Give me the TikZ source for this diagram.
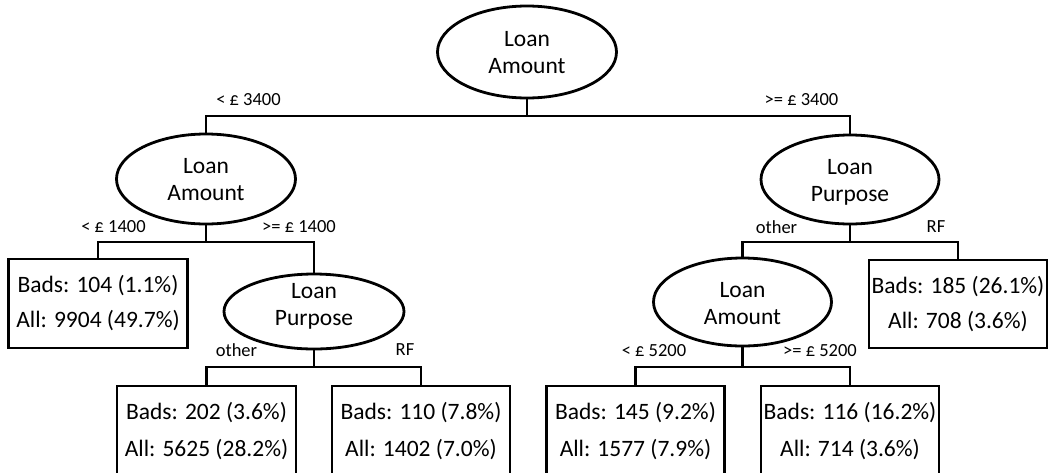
\documentclass[tikz,border=0pt]{standalone}
\usepackage{fontspec}
\setmainfont{Carlito}
\usetikzlibrary{shapes.geometric}
\tikzset{
  split/.style={ellipse,draw,line width=2.8pt,inner sep=0pt},
  splittext/.style={inner sep=0pt,align=center,font=\fontsize{23.5}{27}\selectfont},
  leaf/.style={rectangle,draw,line width=2.8pt,inner sep=0pt,align=center,
    font=\fontsize{23.5}{35}\selectfont},
  conn/.style={line width=2.8pt},
  elab/.style={inner sep=0pt,font=\fontsize{18.5}{20}\selectfont}
}
\begin{document}
\begin{tikzpicture}[x=1pt,y=-1pt]
\path[use as bounding box] (0,0) rectangle (1051,472);
\clip (0,0) rectangle (1051,472);
% split nodes
\node[split,minimum width=179pt,minimum height=92pt] (root) at (527,52) {};
\node[split,minimum width=179pt,minimum height=90pt] (l1) at (206,179) {};
\node[split,minimum width=178pt,minimum height=89pt] (r1) at (850,179.5) {};
\node[split,minimum width=180pt,minimum height=75pt] (l2) at (314,311.5) {};
\node[split,minimum width=178pt,minimum height=88pt] (r2) at (742.5,302) {};
\node[splittext] (roott) at (527,53) {Loan\\Amount};
\node[splittext] (l1t) at (206,179.5) {Loan\\Amount};
\node[splittext] (r1t) at (850,182) {Loan\\Purpose};
\node[splittext] (l2t) at (314,306.5) {Loan\\Purpose};
\node[splittext] (r2t) at (742.5,304) {Loan\\Amount};
% leaves
\node[leaf,minimum width=179pt,minimum height=89pt] (ll) at (98,303.5) {Bads: 104 (1.1\%)\\All: 9904 (49.7\%)};
\node[leaf,minimum width=178pt,minimum height=88pt] (rr) at (958,304) {Bads: 185 (26.1\%)\\All: 708 (3.6\%)};
\node[leaf,minimum width=179pt,minimum height=90pt,font=\fontsize{23.5}{36.5}\selectfont] (b1) at (206.5,431) {Bads: 202 (3.6\%)\\All: 5625 (28.2\%)};
\node[leaf,minimum width=178pt,minimum height=90pt,font=\fontsize{23.5}{36.5}\selectfont] (b2) at (421,431) {Bads: 110 (7.8\%)\\All: 1402 (7.0\%)};
\node[leaf,minimum width=178pt,minimum height=90pt,font=\fontsize{23.5}{36.5}\selectfont] (b3) at (635.5,431) {Bads: 145 (9.2\%)\\All: 1577 (7.9\%)};
\node[leaf,minimum width=178pt,minimum height=90pt,font=\fontsize{23.5}{36.5}\selectfont] (b4) at (850,431) {Bads: 116 (16.2\%)\\All: 714 (3.6\%)};
% junctions
\coordinate (j0) at (527,116);
\coordinate (j1) at (206,242);
\coordinate (j2) at (850,242);
\coordinate (j3) at (314,367);
\coordinate (j4) at (742.5,367);
% connectors
\draw[conn] (root.south) -- (j0);
\draw[conn] (j0) -| (l1.north);
\draw[conn] (j0) -| (r1.north);
\draw[conn] (l1.south) -- (j1);
\draw[conn] (j1) -| (ll.north);
\draw[conn] (j1) -| (l2.north);
\draw[conn] (r1.south) -- (j2);
\draw[conn] (j2) -| (r2.north);
\draw[conn] (j2) -| (rr.north);
\draw[conn] (l2.south) -- (j3);
\draw[conn] (j3) -| (b1.north);
\draw[conn] (j3) -| (b2.north);
\draw[conn] (r2.south) -- (j4);
\draw[conn] (j4) -| (b3.north);
\draw[conn] (j4) -| (b4.north);
% edge labels
\node[elab] (e1) at (248.5,100) {< £ 3400};
\node[elab] (e2) at (801.5,100) {>= £ 3400};
\node[elab] (e3) at (113.5,227) {< £ 1400};
\node[elab] (e4) at (299,227) {>= £ 1400};
\node[elab] (e5) at (776.5,227) {other};
\node[elab] (e6) at (936,227) {RF};
\node[elab] (e7) at (236.5,350) {other};
\node[elab] (e8) at (405,350) {RF};
\node[elab] (e9) at (654,351) {< £ 5200};
\node[elab] (e10) at (820,351) {>= £ 5200};
\end{tikzpicture}
\end{document}
